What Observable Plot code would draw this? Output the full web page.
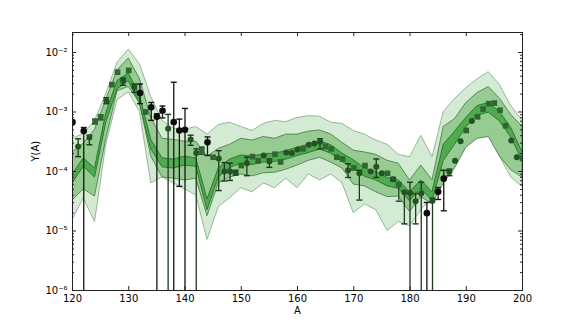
<!DOCTYPE html>
<html><head><meta charset="utf-8">
<script src="https://cdn.jsdelivr.net/npm/d3@7"></script>
<script src="https://cdn.jsdelivr.net/npm/@observablehq/plot@0.6"></script>
<style>body{margin:0;background:#fff}</style>
</head><body><div id="chart"></div>
<script>
// Mass number grid for the bands
const massA = [120,122,124,126,128,130,132,134,136,138,140,142,144,146,148,150,152,154,156,158,160,162,164,166,168,170,172,174,176,178,180,182,184,186,188,190,192,194,196,198,200];
// All Y values stored as log10(Y(A))
const outerHiLog = [-3.45,-3.37,-3.15,-2.70,-2.17,-1.95,-2.20,-2.75,-3.15,-3.28,-3.30,-3.25,-3.38,-3.22,-3.18,-3.25,-3.32,-3.20,-3.15,-3.17,-3.10,-3.07,-3.08,-3.18,-3.20,-3.32,-3.38,-3.48,-3.55,-3.72,-3.76,-3.40,-3.76,-3.00,-2.78,-2.60,-2.45,-2.33,-2.55,-2.90,-3.14];
const outerLoLog = [-4.82,-4.45,-4.85,-3.55,-2.80,-2.67,-3.00,-4.20,-4.10,-4.20,-4.30,-4.40,-5.15,-4.60,-4.45,-4.28,-4.35,-4.20,-4.28,-4.12,-4.28,-4.05,-4.15,-4.05,-4.20,-4.70,-4.55,-4.65,-5.00,-4.85,-4.92,-4.65,-4.45,-4.12,-3.88,-3.55,-3.38,-3.35,-3.75,-4.10,-4.26];
const innerHiLog = [-3.68,-3.53,-3.30,-2.80,-2.30,-2.10,-2.45,-3.10,-3.45,-3.47,-3.50,-3.50,-3.75,-3.62,-3.55,-3.45,-3.48,-3.42,-3.45,-3.38,-3.38,-3.33,-3.31,-3.38,-3.52,-3.65,-3.68,-3.72,-3.82,-3.87,-4.15,-3.90,-4.15,-3.25,-3.12,-2.85,-2.68,-2.58,-2.78,-3.05,-3.25];
const innerLoLog = [-4.49,-4.30,-4.42,-3.45,-2.65,-2.58,-2.85,-3.75,-4.10,-4.12,-4.15,-4.12,-4.75,-4.20,-4.10,-4.05,-4.08,-4.03,-4.02,-3.97,-3.90,-3.82,-3.77,-3.85,-3.95,-4.22,-4.25,-4.35,-4.43,-4.42,-4.68,-4.43,-4.55,-4.20,-3.95,-3.60,-3.45,-3.42,-3.75,-3.98,-4.10];
const coreHiLog  = [-4.05,-3.78,-3.95,-3.02,-2.48,-2.35,-2.73,-3.47,-3.78,-3.80,-3.75,-3.78,-4.47,-3.95,-3.80,-3.73,-3.75,-3.71,-3.70,-3.66,-3.60,-3.55,-3.49,-3.56,-3.70,-3.81,-3.95,-4.01,-4.11,-4.15,-4.35,-4.15,-4.35,-3.55,-3.33,-3.10,-2.90,-2.85,-3.00,-3.27,-3.68];
const coreLoLog  = [-4.20,-3.92,-4.10,-3.18,-2.62,-2.48,-2.87,-3.63,-3.93,-3.95,-3.90,-3.92,-4.65,-4.10,-3.94,-3.87,-3.89,-3.85,-3.84,-3.80,-3.74,-3.69,-3.63,-3.70,-3.84,-3.95,-4.09,-4.15,-4.25,-4.29,-4.50,-4.29,-4.50,-3.82,-3.55,-3.26,-3.06,-3.01,-3.16,-3.43,-3.82];

// Black circles (measured), with error bars (log10); -7 = bar running off the bottom
const blackA  = [120,122,132,134,135,136,138,139,140,144,183,185,186];
const blackY  = [-3.17,-3.32,-2.68,-2.92,-3.08,-2.98,-3.17,-3.31,-3.30,-3.51,-4.70,-4.34,-4.12];
const blackLo = [null,-7,-2.86,-3.14,-7,-3.10,-7,-4.25,-7,-3.73,-7,-4.47,-4.66];
const blackHi = [null,-3.26,-2.53,-2.84,-3.03,-2.90,-2.50,-3.12,-2.94,-3.42,-4.52,-4.27,-3.98];

// Green circles
const circA  = [121,123,126,129,131,137,141,142,146,147,148,149,151,154,155,158,159,160,162,163,164,169,171,173,174,175,177,179,180,181,182,184,187,188,189,191,198,199];
const circY  = [-3.58,-3.43,-2.81,-2.48,-2.58,-3.28,-3.46,-3.69,-3.78,-4.00,-4.00,-4.02,-3.86,-3.73,-3.83,-3.68,-3.69,-3.63,-3.55,-3.53,-3.50,-3.98,-4.03,-4.00,-3.92,-4.03,-4.13,-4.35,-4.36,-4.50,-4.37,-4.49,-4.01,-3.82,-3.49,-3.15,-3.48,-3.76];
const circLo = [-3.75,-3.55,-2.86,-2.55,-2.67,-7,-3.56,-7,-4.32,-4.16,-4.15,-4.06,-4.07,null,-3.93,null,null,null,null,null,-3.62,-4.10,-4.48,null,-4.10,null,-4.16,-4.88,-7,-4.88,-7,-7,-4.07,null,null,null,null,null];
const circHi = [-3.45,-3.39,-2.76,-2.43,-2.53,-3.04,-3.39,-3.62,-3.65,-3.85,-3.86,-3.98,-3.76,null,-3.79,null,null,null,null,null,-3.45,-3.87,-3.98,null,-3.79,null,-4.10,-4.33,-4.18,-4.37,-4.18,-4.45,-3.96,null,null,null,null,null];

// Green squares
const sqA  = [124,125,127,128,130,133,143,145,150,152,153,156,157,161,165,166,167,168,170,172,176,178,190,192,193,194,195,196,197,200];
const sqY  = [-3.16,-3.09,-2.54,-2.33,-2.30,-3.00,-3.65,-3.76,-3.90,-3.75,-3.82,-3.71,-3.84,-3.62,-3.58,-3.62,-3.76,-3.79,-3.94,-3.90,-4.03,-4.22,-3.31,-3.08,-2.95,-2.86,-2.85,-2.97,-3.23,-3.78];
const sqLo = [-3.20,-3.13,null,null,null,null,-3.71,null,null,null,null,null,null,null,null,null,null,null,null,null,null,-4.50,null,null,null,null,null,null,null,null];
const sqHi = [-3.12,-3.05,null,null,null,null,-3.59,null,null,null,null,null,null,null,null,null,null,null,null,null,null,-4.20,null,null,null,null,null,null,null,null];

const xTicks = [120,130,140,150,160,170,180,190,200];
const yMajor = [1e-6,1e-5,1e-4,1e-3,1e-2];

const p10 = v => (v == null ? NaN : Math.pow(10, v));
const bands = massA.map((a, i) => ({
  A: a,
  oLo: p10(outerLoLog[i]), oHi: p10(outerHiLog[i]),
  iLo: p10(innerLoLog[i]), iHi: p10(innerHiLog[i]),
  cLo: p10(coreLoLog[i]),  cHi: p10(coreHiLog[i])
}));
const pts = (As, Ys, Los, His) => As.map((a, i) => ({A: a, y: p10(Ys[i]), lo: p10(Los[i]), hi: p10(His[i])}));
const black = pts(blackA, blackY, blackLo, blackHi);
const circ = pts(circA, circY, circLo, circHi);
const sq = pts(sqA, sqY, sqLo, sqHi);

const yMinor = [];
for (let e = -6; e <= -2; e++) for (let m = 2; m <= 9; m++) { const v = m * Math.pow(10, e); if (v < 0.0217) yMinor.push(v); }

const sup = {"-":"\u207B","0":"\u2070","1":"\u00B9","2":"\u00B2","3":"\u00B3","4":"\u2074","5":"\u2075","6":"\u2076","7":"\u2077","8":"\u2078","9":"\u2079"};
const fmt = d => "10" + String(Math.round(Math.log10(d))).split("").map(c => sup[c]).join("");

const capSym = {draw(ctx, size) { const r = Math.sqrt(size / Math.PI); ctx.moveTo(-r, 0); ctx.lineTo(r, 0); }};

const W = 581, H = 323, mL = 72, mR = 59, mT = 32, mB = 33;
const fw = W - mL - mR, fh = H - mT - mB;
const axisColor = "#222";

function errMarks(data, barColor) {
  const withBars = data.filter(d => isFinite(d.lo) || isFinite(d.hi));
  return [
    Plot.ruleX(withBars, {x: "A", y1: "lo", y2: "hi", stroke: barColor, strokeWidth: 1.3, clip: true}),
    Plot.dot(withBars.filter(d => isFinite(d.hi)), {x: "A", y: "hi", symbol: capSym, r: 3.0, stroke: barColor, strokeWidth: 1.4, fill: "none", clip: true}),
    Plot.dot(withBars.filter(d => isFinite(d.lo)), {x: "A", y: "lo", symbol: capSym, r: 3.0, stroke: barColor, strokeWidth: 1.4, fill: "none", clip: true})
  ];
}

const chart = Plot.plot({
  width: W, height: H,
  marginLeft: mL, marginRight: mR, marginTop: mT, marginBottom: mB,
  style: {fontFamily: "DejaVu Sans", fontSize: "10px", background: "white", color: "#000"},
  x: {domain: [120, 200]},
  y: {type: "log", domain: [1e-6, 0.0217]},
  marks: [
    Plot.areaY(bands, {x: "A", y1: "oLo", y2: "oHi", fill: "#d2ebd2", stroke: "#8fae8f", strokeWidth: 0.9, clip: true}),
    Plot.areaY(bands, {x: "A", y1: "iLo", y2: "iHi", fill: "#96cb92", stroke: "#4f7f4f", strokeWidth: 0.9, clip: true}),
    Plot.areaY(bands, {x: "A", y1: "cLo", y2: "cHi", fill: "#4fab4f", stroke: "#327632", strokeWidth: 1, clip: true}),
    ...errMarks(circ, "#1c3a1c"),
    ...errMarks(sq, "#24482a"),
    ...errMarks(black, "#151515"),
    Plot.dot(circ, {x: "A", y: "y", r: 3.0, fill: "#245224", clip: true}),
    Plot.dot(sq, {x: "A", y: "y", symbol: "square", r: 3.2, fill: "#2f682f", clip: true}),
    Plot.dot(black, {x: "A", y: "y", r: 3.3, fill: "#0d0d0d", clip: true}),
    Plot.frame({stroke: axisColor, strokeWidth: 1}),
    // inward ticks on all four sides
    Plot.ruleX(xTicks, {x: d => d, insetTop: fh - 4, stroke: axisColor}),
    Plot.ruleX(xTicks, {x: d => d, insetBottom: fh - 4, stroke: axisColor}),
    Plot.ruleY(yMajor, {y: d => d, insetRight: fw - 4, stroke: axisColor}),
    Plot.ruleY(yMajor, {y: d => d, insetLeft: fw - 4, stroke: axisColor}),
    Plot.ruleY(yMinor, {y: d => d, insetRight: fw - 2, stroke: axisColor}),
    Plot.ruleY(yMinor, {y: d => d, insetLeft: fw - 2, stroke: axisColor}),
    Plot.axisX(xTicks, {tickSize: 0, tickPadding: 4, fontSize: 10, label: null}),
    Plot.axisY(yMajor, {tickSize: 0, tickPadding: 5, fontSize: 10, tickFormat: fmt, label: null}),
    Plot.text(["A"], {frameAnchor: "bottom", dy: 23, fontSize: 10}),
    Plot.text(["Y(A)"], {frameAnchor: "left", dx: -37, rotate: -90, fontSize: 10})
  ]
});
document.getElementById("chart").appendChild(chart);
</script>
</body></html>
